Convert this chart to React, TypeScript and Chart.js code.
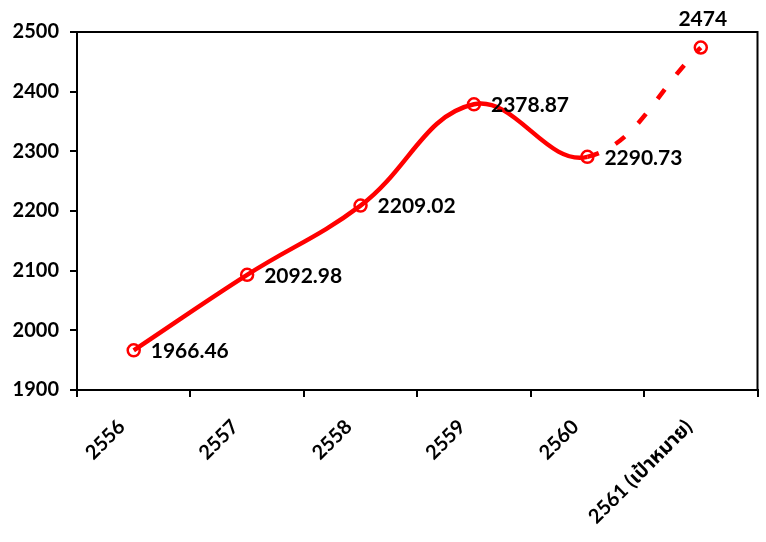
import React, { useEffect, useRef } from "react";
import { Chart, registerables } from "chart.js";

Chart.register(...registerables);

const categories = ["2556", "2557", "2558", "2559", "2560", "2561 (เป้าหมาย)"];
const values = [1966.46, 2092.98, 2209.02, 2378.87, 2290.73, 2474];
const yMin = 1900;
const yMax = 2500;
const yStep = 100;

const FONT = "Lato, 'Noto Sans', 'Noto Sans Thai', sans-serif";

const frameAndLabels = {
  id: "frameAndLabels",
  afterDatasetsDraw(chart: any) {
    const { ctx, chartArea } = chart;
    ctx.save();
    ctx.strokeStyle = "#000";
    ctx.lineWidth = 2;
    ctx.strokeRect(chartArea.left, chartArea.top, chartArea.right - chartArea.left, chartArea.bottom - chartArea.top);
    const meta = chart.getDatasetMeta(0);
    ctx.fillStyle = "#000";
    ctx.font = `bold 21px ${FONT}`;
    meta.data.forEach((pt: any, i: number) => {
      const txt = String(values[i]);
      if (i === values.length - 1) {
        ctx.textAlign = "center";
        ctx.textBaseline = "middle";
        ctx.fillText(txt, pt.x + 2, pt.y - 28);
      } else {
        ctx.textAlign = "left";
        ctx.textBaseline = "middle";
        ctx.fillText(txt, pt.x + 17, pt.y + 1);
      }
    });
    ctx.restore();
  },
};

export default function App() {
  const ref = useRef<HTMLCanvasElement | null>(null);
  useEffect(() => {
    document.body.style.margin = "0";
    const last = values.length - 1;
    const chart = new Chart(ref.current!, {
      type: "line",
      data: {
        labels: categories,
        datasets: [
          {
            data: values,
            borderColor: "#FF0000",
            borderWidth: 4.5,
            tension: 0.4,
            pointRadius: 6,
            pointBorderWidth: 2.5,
            pointBorderColor: "#FF0000",
            pointBackgroundColor: "rgba(0,0,0,0)",
            segment: {
              borderDash: (c: any) => (c.p1DataIndex === last ? [12, 19] : undefined),
            },
          },
        ],
      },
      options: {
        animation: false,
        responsive: false,
        devicePixelRatio: 1,
        layout: { padding: { left: 8, right: 6, top: 32, bottom: 0 } },
        plugins: { legend: { display: false }, tooltip: { enabled: false } },
        scales: {
          x: {
            offset: true,
            grid: { offset: true, drawOnChartArea: false, color: "#000", lineWidth: 2, tickLength: 7 },
            border: { color: "#000", width: 2 },
            ticks: {
              color: "#000",
              font: { family: FONT, size: 20, weight: "bold" },
              maxRotation: 45,
              minRotation: 45,
              padding: 18,
              labelOffset: -12,
            },
            afterFit: (s: any) => {
              s.height = 152;
              s.paddingLeft = 0;
              s.paddingRight = 0;
            },
          },
          y: {
            min: yMin,
            max: yMax,
            grid: { drawOnChartArea: false, color: "#000", lineWidth: 2, tickLength: 7 },
            border: { color: "#000", width: 2 },
            ticks: {
              stepSize: yStep,
              color: "#000",
              font: { family: FONT, size: 20, weight: "bold" },
              padding: 11,
              callback: (v: any) => String(v),
            },
            afterFit: (s: any) => {
              s.width = 69;
              s.paddingTop = 0;
              s.paddingBottom = 0;
            },
          },
        },
      },
      plugins: [frameAndLabels],
    });
    return () => chart.destroy();
  }, []);
  return (
    <div style={{ width: 766, height: 542 }}>
      <canvas ref={ref} width={766} height={542} style={{ display: "block" }} />
    </div>
  );
}
